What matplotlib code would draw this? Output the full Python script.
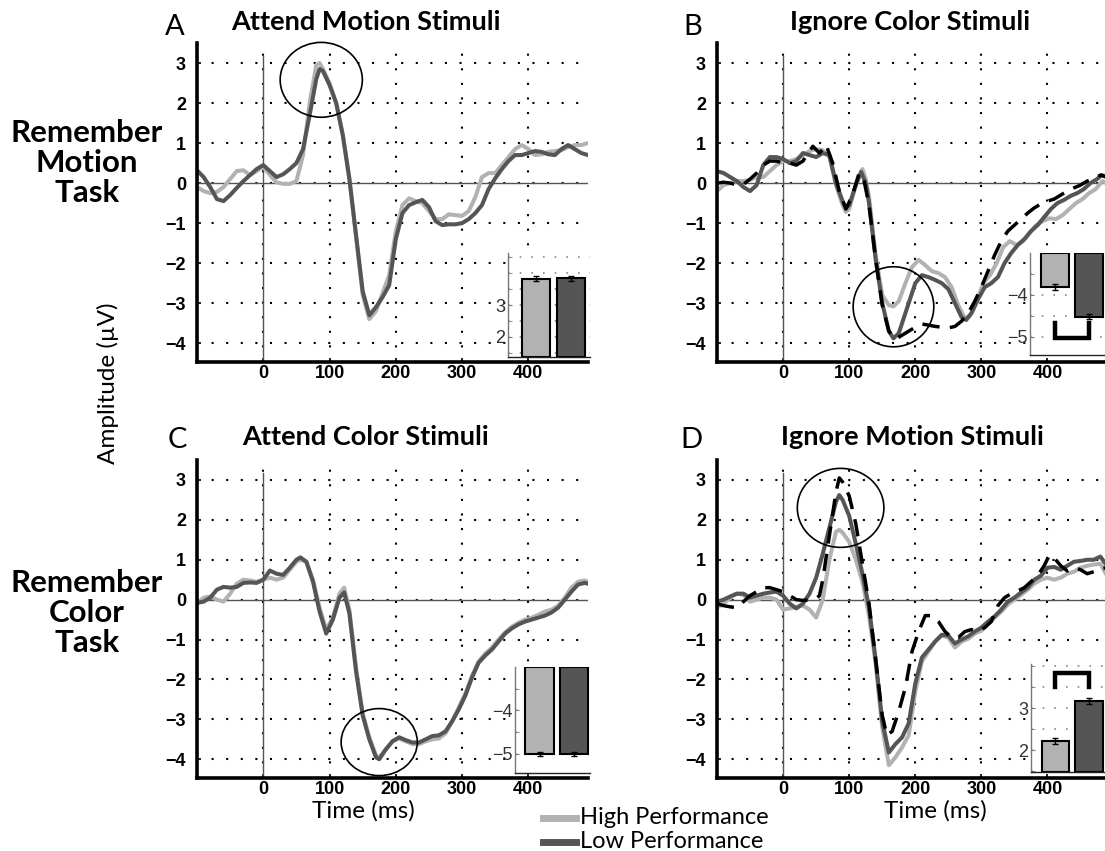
import numpy as np
import matplotlib
matplotlib.use("Agg")
import matplotlib.pyplot as plt
from matplotlib.patches import Ellipse
from matplotlib.lines import Line2D

plt.rcParams['font.family'] = ['Lato', 'DejaVu Sans']

# ---------------- data ----------------
tA = [-100,-90,-80,-70,-60,-50,-40,-30,-20,-10,0,10,20,30,40,50,60,70,80,85,90,100,110,120,130,140,150,160,170,180,190,200,210,220,230,240,250,260,270,280,290,300,310,320,330,340,350,360,370,380,390,400,410,420,430,440,450,460,470,480,490]
A_low = [0.32,0.15,-0.1,-0.4,-0.45,-0.3,-0.12,0.05,0.2,0.35,0.45,0.3,0.15,0.22,0.35,0.5,0.85,1.7,2.6,2.85,2.8,2.45,2.0,1.2,0.1,-1.3,-2.7,-3.3,-3.1,-2.85,-2.55,-1.4,-0.75,-0.55,-0.48,-0.42,-0.6,-0.95,-1.05,-1.03,-1.03,-1.0,-0.9,-0.75,-0.55,-0.15,0.12,0.35,0.55,0.7,0.7,0.75,0.8,0.78,0.72,0.7,0.85,0.95,0.85,0.75,0.7]
A_high = [-0.1,-0.2,-0.25,-0.22,-0.1,0.1,0.3,0.32,0.2,0.3,0.42,0.2,0.02,-0.02,-0.02,0.05,0.7,2.0,2.95,3.0,2.85,2.5,2.0,1.2,0.1,-1.35,-2.8,-3.4,-3.2,-2.75,-2.3,-1.2,-0.55,-0.38,-0.45,-0.5,-0.7,-0.9,-0.9,-0.78,-0.8,-0.82,-0.7,-0.35,0.15,0.25,0.25,0.45,0.65,0.85,0.95,0.85,0.7,0.72,0.78,0.8,0.82,0.9,0.95,0.95,1.0]

tB_low = [-100,-90,-80,-70,-60,-50,-40,-30,-20,-10,0,10,20,30,40,50,60,70,80,90,95,100,110,118,125,130,140,150,160,167,175,180,190,200,210,220,230,240,250,260,270,277,285,295,305,315,325,335,345,355,365,375,385,395,405,415,425,435,445,455,465,475,482,490]
B_low = [0.3,0.25,0.15,0.05,-0.1,-0.2,-0.05,0.45,0.65,0.65,0.6,0.5,0.55,0.75,0.7,0.65,0.75,0.7,0.0,-0.45,-0.62,-0.55,-0.05,0.28,0.0,-0.5,-1.9,-3.0,-3.7,-3.88,-3.75,-3.5,-3.0,-2.5,-2.3,-2.35,-2.42,-2.5,-2.65,-3.0,-3.35,-3.42,-3.25,-2.9,-2.6,-2.5,-2.35,-2.0,-1.75,-1.55,-1.4,-1.2,-1.05,-0.85,-0.65,-0.5,-0.42,-0.32,-0.25,-0.15,0.0,0.1,0.2,0.15]
tB_high = [-100,-90,-80,-70,-60,-50,-40,-30,-20,-10,0,10,20,30,40,50,60,70,80,90,95,100,110,120,125,130,140,150,160,167,175,185,195,205,215,225,235,245,255,265,275,283,293,303,313,323,333,343,353,363,373,383,393,403,413,423,433,443,453,463,473,483,490]
B_high = [-0.2,-0.05,0.0,0.05,0.05,0.08,0.15,0.15,0.3,0.45,0.55,0.55,0.6,0.7,0.8,0.85,0.82,0.65,-0.05,-0.55,-0.72,-0.65,-0.05,0.35,0.1,-0.35,-1.8,-2.8,-3.05,-3.08,-2.95,-2.5,-2.1,-1.92,-2.05,-2.2,-2.25,-2.35,-2.6,-3.05,-3.38,-3.3,-2.95,-2.5,-2.3,-2.0,-1.6,-1.45,-1.55,-1.45,-1.25,-1.05,-0.95,-0.88,-0.9,-0.8,-0.65,-0.5,-0.4,-0.25,-0.15,0.05,0.0]
tB_dash = [-100,-90,-80,-70,-60,-50,-40,-30,-20,-10,0,10,20,30,40,45,55,65,75,85,95,105,115,122,130,140,150,160,170,180,190,200,210,220,230,240,250,260,270,280,290,300,310,320,330,340,350,360,370,380,390,400,410,420,430,440,450,460,470,480,490]
B_dash = [0.0,0.02,0.0,-0.05,-0.03,0.1,0.25,0.45,0.55,0.55,0.5,0.5,0.45,0.55,0.8,0.92,0.75,0.96,0.5,-0.2,-0.65,-0.3,0.25,0.1,-0.55,-1.9,-3.05,-3.7,-3.9,-3.8,-3.7,-3.6,-3.52,-3.55,-3.58,-3.6,-3.62,-3.58,-3.45,-3.25,-2.95,-2.6,-2.2,-1.8,-1.45,-1.2,-1.05,-0.9,-0.75,-0.62,-0.52,-0.45,-0.4,-0.3,-0.2,-0.12,-0.05,0.05,0.1,0.2,0.15]

tC = [-100,-90,-80,-70,-60,-50,-40,-30,-20,-10,0,10,20,30,40,50,56,65,75,85,95,105,115,122,130,140,150,160,170,175,185,195,205,215,225,235,245,255,265,275,285,295,305,315,325,335,345,355,365,375,385,395,405,415,425,435,445,455,465,475,485,490]
C_low = [-0.08,-0.05,0.05,0.25,0.32,0.3,0.32,0.42,0.43,0.42,0.5,0.73,0.65,0.62,0.8,1.0,1.06,0.95,0.45,-0.3,-0.85,-0.5,0.05,0.18,-0.35,-1.8,-2.9,-3.5,-3.95,-4.0,-3.75,-3.55,-3.45,-3.52,-3.58,-3.58,-3.5,-3.42,-3.4,-3.3,-3.05,-2.75,-2.4,-1.95,-1.58,-1.4,-1.25,-1.05,-0.85,-0.72,-0.62,-0.55,-0.5,-0.45,-0.4,-0.32,-0.2,0.0,0.2,0.38,0.42,0.4]
C_high = [-0.1,0.05,0.08,0.0,-0.05,0.15,0.4,0.5,0.48,0.45,0.5,0.55,0.5,0.55,0.75,0.95,1.0,0.95,0.5,-0.2,-0.75,-0.45,0.15,0.3,-0.25,-1.7,-2.85,-3.45,-3.9,-3.95,-3.75,-3.55,-3.48,-3.55,-3.62,-3.62,-3.55,-3.5,-3.48,-3.35,-3.05,-2.7,-2.35,-1.9,-1.55,-1.35,-1.2,-1.0,-0.82,-0.68,-0.58,-0.5,-0.45,-0.38,-0.3,-0.25,-0.15,0.05,0.3,0.45,0.48,0.45]

tD = [-100,-90,-80,-70,-60,-50,-40,-30,-20,-10,0,10,20,30,40,50,60,70,80,85,90,100,110,120,130,140,150,160,170,180,190,200,210,220,230,240,250,260,270,280,290,300,310,320,330,340,350,360,370,380,390,400,410,420,430,440,450,460,470,480,490]
D_low = [-0.05,0.0,0.08,0.15,0.15,0.05,0.1,0.15,0.18,0.2,0.1,-0.1,-0.22,-0.1,0.15,0.55,1.15,1.8,2.45,2.62,2.5,2.1,1.4,0.65,-0.2,-1.5,-3.05,-3.83,-3.62,-3.45,-3.1,-2.1,-1.45,-1.25,-1.05,-0.88,-0.9,-1.1,-1.0,-0.92,-0.8,-0.7,-0.55,-0.42,-0.25,-0.05,0.05,0.18,0.3,0.5,0.6,0.8,0.82,0.75,0.85,0.95,0.97,1.0,1.0,1.08,0.85]
D_high = [-0.2,-0.1,0.05,0.15,0.12,-0.05,0.0,0.05,0.05,0.0,-0.25,-0.22,-0.18,-0.15,-0.25,-0.45,0.0,1.0,1.7,1.75,1.68,1.45,1.0,0.45,-0.4,-1.6,-3.2,-4.15,-3.95,-3.7,-3.4,-2.3,-1.55,-1.3,-1.05,-0.9,-0.95,-1.2,-1.05,-0.98,-0.85,-0.78,-0.6,-0.45,-0.3,-0.12,0.0,0.12,0.25,0.4,0.5,0.55,0.5,0.55,0.65,0.7,0.8,0.85,0.88,0.9,0.6]
tD_dash = [-100,-90,-80,-70,-60,-50,-40,-30,-20,-10,0,10,20,30,40,50,55,60,70,80,85,90,100,110,120,130,140,150,157,165,175,185,195,205,215,225,235,245,255,265,275,285,295,305,315,325,335,345,355,365,375,385,395,403,410,420,430,440,450,460,470,480,490]
D_dash = [-0.1,-0.15,-0.18,-0.2,-0.05,0.1,0.2,0.3,0.3,0.25,0.2,0.1,0.0,-0.02,0.0,0.03,0.1,0.5,1.6,2.7,3.05,2.95,2.6,1.9,0.9,-0.1,-1.5,-2.9,-3.4,-3.3,-2.8,-2.2,-1.3,-0.8,-0.4,-0.4,-0.55,-0.8,-0.95,-0.95,-0.8,-0.75,-0.8,-0.7,-0.55,-0.15,0.05,0.15,0.22,0.3,0.45,0.6,0.85,1.12,1.05,0.85,0.72,0.8,0.75,0.65,0.7,0.78,0.8]

# inset bar values (high, low) and errors
inset_A = [3.82, 3.84]; inset_A_err = [0.08, 0.08]
inset_B = [-3.82, -4.52]; inset_B_err = [0.07, 0.07]
inset_C = [-5.0, -5.0]; inset_C_err = [0.05, 0.05]
inset_D = [2.22, 3.17]; inset_D_err = [0.07, 0.08]

titles = ["Attend Motion Stimuli", "Ignore Color Stimuli", "Attend Color Stimuli", "Ignore Motion Stimuli"]
letters = ["A", "B", "C", "D"]
row_labels = ["Remember\nMotion\nTask", "Remember\nColor\nTask"]
legend_labels = ["High Performance", "Low Performance"]
x_ticks = [0, 100, 200, 300, 400]
y_ticks = [-4, -3, -2, -1, 0, 1, 2, 3]

LIGHT = '#b2b2b2'
DARK = '#555555'

W, H = 1105, 851
fig = plt.figure(figsize=(W / 100, H / 100), dpi=100)


def box(l, t, r, b):
    return [l / W, 1 - b / H, (r - l) / W, (b - t) / H]


def main_axes(rect, xlim, ylim):
    ax = fig.add_axes(box(*rect))
    ax.set_xlim(*xlim)
    ax.set_ylim(*ylim)
    for s in ['top', 'right']:
        ax.spines[s].set_visible(False)
    for s in ['left', 'bottom']:
        ax.spines[s].set_linewidth(2.6)
        ax.spines[s].set_color('black')
    ax.set_xticks(x_ticks)
    ax.set_yticks(y_ticks)
    ax.tick_params(length=3, width=1.2, direction='in')
    ax.tick_params(axis='y', pad=8)
    ax.tick_params(axis='x', pad=2)
    for lab in ax.get_xticklabels() + ax.get_yticklabels():
        lab.set_family(['Liberation Sans', 'DejaVu Sans'])
        lab.set_fontweight('bold')
        lab.set_fontsize(13)
    ax.grid(True, linestyle=(0, (1, 6)), color='black', linewidth=1.5)
    ax.axhline(0, color='#555555', lw=1.0, zorder=1)
    ax.axvline(0, color='#555555', lw=1.0, ymax=0.96, zorder=1)
    ax.set_axisbelow(True)
    return ax


def inset(rect, xlim, ylim, ticks):
    ax = fig.add_axes(box(*rect))
    ax.set_facecolor('white')
    ax.set_xlim(*xlim)
    ax.set_ylim(*ylim)
    ax.spines['top'].set_visible(False)
    ax.spines['right'].set_visible(False)
    ax.spines['left'].set_color('#777777')
    ax.spines['left'].set_linewidth(1.0)
    ax.spines['bottom'].set_color('#222222')
    ax.spines['bottom'].set_linewidth(1.0)
    ax.set_xticks([])
    ax.set_yticks(ticks)
    ax.set_yticks(np.arange(np.ceil(ylim[0] * 2) / 2, ylim[1], 0.5), minor=True)
    ax.yaxis.grid(True, which='both', linestyle=(0, (1, 6)), color='#888888', lw=1.2)
    ax.tick_params(axis='y', which='both', length=3, direction='in', pad=2, labelsize=13, labelcolor='#333333', color='#777777')
    for lab in ax.get_yticklabels():
        lab.set_family(['Liberation Sans', 'DejaVu Sans'])
    ax.set_axisbelow(True)
    return ax


lw_line = 2.9
YL = (-4.47, 3.5)
axA = main_axes((197, 43, 588, 362), (-100, 490), YL)
axA.plot(tA, A_high, color=LIGHT, lw=lw_line)
axA.plot(tA, A_low, color=DARK, lw=lw_line)

axB = main_axes((717, 43, 1105, 362), (-100, 487), YL)
axB.plot(tB_high, B_high, color=LIGHT, lw=lw_line)
axB.plot(tB_low, B_low, color=DARK, lw=lw_line)
axB.plot(tB_dash, B_dash, color='black', lw=2.5, linestyle=(0, (5, 3)))

axC = main_axes((197, 460, 588, 778), (-100, 490), YL)
axC.plot(tC, C_high, color=LIGHT, lw=lw_line)
axC.plot(tC, C_low, color=DARK, lw=lw_line)

axD = main_axes((717, 460, 1105, 778), (-100, 487), YL)
axD.plot(tD, D_high, color=LIGHT, lw=lw_line)
axD.plot(tD, D_low, color=DARK, lw=lw_line)
axD.plot(tD_dash, D_dash, color='black', lw=2.5, linestyle=(0, (5, 3)))

# circles
for ax, (cx, cy, w, h) in zip([axA, axB, axC, axD],
                              [(87.5, 2.58, 124, 1.87), (167, -3.09, 122, 2.0),
                               (175, -3.57, 115, 1.68), (87, 2.30, 131, 1.98)]):
    ax.add_patch(Ellipse((cx, cy), w, h, fill=False, edgecolor='black', lw=1.2, clip_on=False, zorder=5))

# insets
bar_x = [1, 2]
bar_w = 0.82
bar_cols = [LIGHT, DARK]

iA = inset((508, 253, 590, 357), (0.2, 2.54), (1.37, 4.63), [2, 3])
iA.bar(bar_x, [v - 1.37 for v in inset_A], bottom=1.37, width=bar_w, color=bar_cols, edgecolor='black', lw=1.5)
iA.errorbar(bar_x, inset_A, yerr=inset_A_err, fmt='none', ecolor='black', elinewidth=1, capsize=2)

iB = inset((1030, 253, 1105, 355), (0.28, 2.46), (-5.44, -3.0), [-5, -4])
iB.bar(bar_x, [v + 3.0 for v in inset_B], bottom=-3.0, width=bar_w, color=bar_cols, edgecolor='black', lw=1.5)
iB.errorbar(bar_x, inset_B, yerr=inset_B_err, fmt='none', ecolor='black', elinewidth=1, capsize=2)
iB.plot([1, 1, 2, 2], [-4.68, -5.04, -5.04, -4.68], color='black', lw=3.2, solid_joinstyle='miter')

iC = inset((515, 667, 590, 773), (0.29, 2.46), (-5.44, -3.0), [-5, -4])
iC.bar(bar_x, [v + 3.0 for v in inset_C], bottom=-3.0, width=bar_w, color=bar_cols, edgecolor='black', lw=1.5)
iC.errorbar(bar_x, inset_C, yerr=inset_C_err, fmt='none', ecolor='black', elinewidth=1, capsize=2)

iD = inset((1031, 664, 1105, 772), (0.28, 2.46), (1.48, 4.05), [2, 3])
iD.bar(bar_x, [v - 1.48 for v in inset_D], bottom=1.48, width=bar_w, color=bar_cols, edgecolor='black', lw=1.5)
iD.errorbar(bar_x, inset_D, yerr=inset_D_err, fmt='none', ecolor='black', elinewidth=1, capsize=2)
iD.plot([1, 1, 2, 2], [3.5, 3.83, 3.83, 3.5], color='black', lw=3.2, solid_joinstyle='miter')

# texts
def ftext(x, y, s, **kw):
    fig.text(x / W, 1 - y / H, s, **kw)

for (x, y), s in zip([(366, 22), (910, 22), (365, 437), (912, 437)], titles):
    ftext(x, y, s, ha='center', va='center', fontsize=19.5, fontweight='bold')
for (x, y), s in zip([(175, 27), (693, 27), (177, 440), (691, 440)], letters):
    ftext(x, y, s, ha='center', va='center', fontsize=21, fontweight='normal')
for (x, y), s in zip([(87, 163), (87, 613)], row_labels):
    ftext(x, y, s, ha='center', va='center', fontsize=22.5, fontweight='bold', linespacing=1.08)
ftext(108, 383, "Amplitude (\u00b5V)", ha='center', va='center', rotation=90, fontsize=17.5)
ftext(363, 811, "Time (ms)", ha='center', va='center', fontsize=17.5)
ftext(935, 811, "Time (ms)", ha='center', va='center', fontsize=17.5)

# legend
for (y, col, lab) in zip([818, 842], [LIGHT, DARK], legend_labels):
    fig.add_artist(Line2D([543 / W, 576 / W], [1 - y / H, 1 - y / H], color=col, lw=5, transform=fig.transFigure))
    ftext(580, y, lab, ha='left', va='center', fontsize=17)

fig.savefig("out.png", dpi=100)
